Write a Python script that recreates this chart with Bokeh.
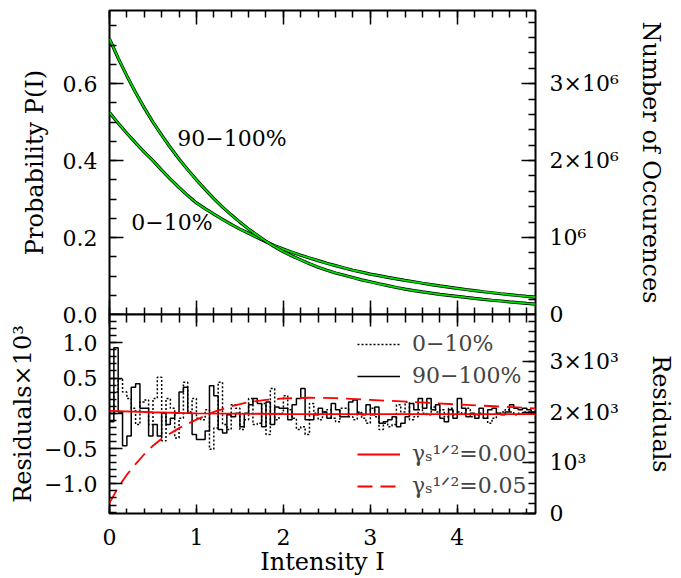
from bokeh.plotting import figure
from bokeh.layouts import column
from bokeh.models import Range1d, LinearAxis, FixedTicker, Label, Legend, LegendItem
from bokeh.embed import file_html
from bokeh.resources import INLINE

# ---------------- data ----------------
prob_step = 0.1   # sampling step of the probability curves, I = 0 .. 4.9
prob_0_10 = [0.525, 0.497, 0.471, 0.446, 0.422, 0.400, 0.375, 0.352, 0.330, 0.309,
             0.290, 0.275, 0.261, 0.247, 0.234, 0.222, 0.211, 0.200, 0.189, 0.179,
             0.170, 0.162, 0.154, 0.147, 0.140, 0.133, 0.127, 0.121, 0.115, 0.110,
             0.105, 0.101, 0.0965, 0.0925, 0.0887, 0.085, 0.0813, 0.0778, 0.0744, 0.0711,
             0.068, 0.0649, 0.0620, 0.0592, 0.0566, 0.054, 0.0516, 0.0493, 0.0471, 0.045]
prob_90_100 = [0.716, 0.666, 0.620, 0.577, 0.537, 0.500, 0.466, 0.434, 0.404, 0.376,
               0.350, 0.325, 0.301, 0.279, 0.259, 0.240, 0.222, 0.206, 0.190, 0.176,
               0.163, 0.152, 0.142, 0.132, 0.123, 0.115, 0.108, 0.102, 0.096, 0.090,
               0.085, 0.0798, 0.0749, 0.0703, 0.0660, 0.062, 0.0587, 0.0555, 0.0525, 0.0497,
               0.047, 0.0443, 0.0418, 0.0394, 0.0371, 0.035, 0.0328, 0.0307, 0.0288, 0.027]

res_bin = 0.05    # residual histogram bin width
res_0_10 = [0.00, 0.30, 0.49, 0.30, 0.21, 0.07, -0.16, 0.16, 0.19, -0.16,
            0.21, 0.51, -0.39, 0.21, 0.07, -0.35, -0.07, 0.44, 0.02, 0.21,
            -0.07, -0.09, 0.05, -0.51, -0.21, 0.44, -0.16, -0.23, 0.12, 0.07,
            -0.23, -0.09, 0.21, -0.16, -0.14, 0.14, -0.30, 0.35, -0.09, 0.00,
            0.25, 0.05, -0.07, -0.23, -0.19, -0.30, 0.14, 0.00, -0.09, 0.02,
            0.05, -0.07, -0.12, 0.07, 0.07, -0.05, -0.09, 0.02, -0.07, -0.14,
            0.07, -0.05, -0.23, -0.14, -0.19, -0.16, 0.12, 0.02, 0.16, -0.09,
            -0.05, 0.05, 0.00, -0.02, 0.09, 0.02, 0.05, -0.05, 0.07, -0.02,
            0.02, 0.00, 0.07, -0.05, -0.02, 0.00, -0.07, -0.14, -0.07, 0.00,
            0.02, 0.05, 0.02, -0.02, 0.00, 0.02, 0.02, 0.00]
res_90_100 = [-0.12, 0.93, 0.02, -0.46, -0.32, 0.37, 0.42, 0.07, 0.07, -0.32,
              -0.16, -0.32, 0.00, -0.16, -0.07, 0.00, 0.30, 0.37, 0.00, -0.30,
              -0.37, -0.37, -0.25, 0.39, 0.25, -0.23, -0.28, -0.02, -0.05, 0.00,
              -0.19, 0.00, 0.12, 0.21, 0.14, -0.19, 0.16, -0.16, 0.09, 0.07,
              0.07, -0.09, 0.12, 0.21, 0.35, -0.09, -0.09, -0.02, 0.07, 0.02,
              -0.07, 0.14, 0.05, -0.05, -0.05, 0.16, 0.19, 0.00, -0.02, 0.12,
              -0.02, 0.09, -0.14, -0.12, -0.09, -0.05, -0.19, -0.14, -0.05, 0.14,
              0.05, 0.21, 0.07, 0.21, 0.05, 0.12, -0.07, -0.12, 0.05, -0.07,
              0.21, 0.07, -0.05, 0.00, -0.07, 0.07, -0.07, 0.05, 0.07, 0.00,
              -0.02, 0.02, 0.12, 0.07, 0.05, 0.07, 0.05, 0.02]

fit00_I = [0.0, 0.5, 1.0, 2.0, 3.0, 4.0, 4.9]
fit00_res = [0.035, 0.015, 0.0, -0.01, -0.012, -0.013, -0.013]
fit05_I = [0.0, 0.1, 0.2, 0.3, 0.4, 0.5, 0.6, 0.8, 1.0, 1.2, 1.4, 1.6, 1.8, 2.0,
           2.3, 2.6, 3.0, 3.5, 4.0, 4.5, 4.9]
fit05_res = [-1.27, -1.05, -0.87, -0.72, -0.58, -0.46, -0.36, -0.21, -0.09, 0.02,
             0.10, 0.16, 0.19, 0.21, 0.22, 0.215, 0.19, 0.16, 0.125, 0.095, 0.07]

x_ticks = [0, 1, 2, 3, 4]
x_tick_labels = ["0", "1", "2", "3", "4"]
top_ticks = [0.0, 0.2, 0.4, 0.6]
top_tick_labels = ["0.0", "0.2", "0.4", "0.6"]
occ_ticks = [0, 1000000, 2000000, 3000000]
occ_tick_labels = ["0", "10⁶", "2×10⁶", "3×10⁶"]
bot_ticks = [-1.0, -0.5, 0.0, 0.5, 1.0]
bot_tick_labels = ["−1.0", "−0.5", "0.0", "0.5", "1.0"]
res_ticks = [0, 1000, 2000, 3000]
res_tick_labels = ["0", "10³", "2×10³", "3×10³"]

# ---------------- layout / style ----------------
W = 678
x_lo, x_hi = 0.0, 4.9
top_lo, top_hi = 0.0, 0.79
bot_lo, bot_hi = -1.42, 1.40
occ_per_prob = 5.0e6
res_lo, res_hi = 0.0, 3930.0

FONT = "DejaVu Serif"
TICK_FS = "22px"
LAB_FS = "24px"
TXT_FS = "22px"

xr = Range1d(x_lo, x_hi)


def style_axis(ax, major, minor, labels, tin, tmin, tout=0, mout=0, standoff=12):
    ax.ticker = FixedTicker(ticks=major, minor_ticks=minor)
    ax.axis_line_color = None
    ax.major_tick_in = tin
    ax.major_tick_out = tout
    ax.minor_tick_in = tmin
    ax.minor_tick_out = mout
    ax.major_tick_line_width = 1.5
    ax.minor_tick_line_width = 1.5
    ax.major_tick_line_color = "black"
    ax.minor_tick_line_color = "black"
    if labels is None:
        ax.major_label_overrides = {t: "" for t in major}
        ax.major_label_text_font_size = "1px"
        ax.major_label_standoff = 0
    else:
        ax.major_label_overrides = dict(zip(major, labels))
        ax.major_label_text_font = FONT
        ax.major_label_text_font_size = TICK_FS
        ax.major_label_text_color = "black"
        ax.major_label_standoff = standoff
    ax.axis_label_text_font = FONT
    ax.axis_label_text_font_size = LAB_FS
    ax.axis_label_text_font_style = "normal"
    ax.axis_label_text_color = "black"


def base_fig(height, yr, top, bottom, **kw):
    f = figure(width=W, height=height, x_range=xr, y_range=yr,
               x_axis_location=None, y_axis_location=None, output_backend="svg",
               toolbar_location=None, min_border_left=109, min_border_right=143,
               min_border_top=top, min_border_bottom=bottom, **kw)
    f.grid.visible = False
    f.outline_line_color = "black"
    f.outline_line_width = 2
    f.background_fill_color = "white"
    f.border_fill_color = None
    return f


x_minor = [round(0.2 * i, 1) for i in range(25)]

# ================= top panel =================
p1 = base_fig(328, Range1d(top_lo, top_hi), 10, 14)
p1.extra_y_ranges = {"occ": Range1d(top_lo * occ_per_prob, top_hi * occ_per_prob)}

ax = LinearAxis(axis_label="Probability P(I)")
style_axis(ax, top_ticks, [round(0.05 * i, 2) for i in range(16)], top_tick_labels, 14, 7)
ax.axis_label_standoff = 11
p1.add_layout(ax, "left")

ax = LinearAxis(y_range_name="occ", axis_label="Number of Occurences")
style_axis(ax, occ_ticks, [200000 * i for i in range(20)], occ_tick_labels, 14, 7,
           standoff=14)
ax.axis_label_standoff = 15
p1.add_layout(ax, "right")

ax = LinearAxis()
style_axis(ax, x_ticks, x_minor, None, 14, 7)
p1.add_layout(ax, "above")
ax = LinearAxis()
style_axis(ax, x_ticks, x_minor, None, 14, 7)
p1.add_layout(ax, "below")

prob_I = [round(prob_step * i, 2) for i in range(len(prob_0_10))]
for vals in (prob_0_10, prob_90_100):
    p1.line(prob_I, vals, line_color="black", line_width=3.2)
    p1.line(prob_I, vals, line_color="#00e000", line_width=1.8)

p1.add_layout(Label(x=0.78, y=0.457, text="90−100%", text_font=FONT, text_font_size=TXT_FS,
                    text_color="black", text_align="left", text_baseline="middle"))
p1.add_layout(Label(x=0.25, y=0.239, text="0−10%", text_font=FONT, text_font_size=TXT_FS,
                    text_color="black", text_align="left", text_baseline="middle"))

# ================= bottom panel =================
p2 = base_fig(266, Range1d(bot_lo, bot_hi), 2, 61, margin=(-16, 0, 0, 0))
p2.extra_y_ranges = {"res": Range1d(res_lo, res_hi)}

ax = LinearAxis(axis_label="Residuals×10³")
style_axis(ax, bot_ticks, [round(-1.4 + 0.1 * i, 1) for i in range(28)], bot_tick_labels, 13, 7)
ax.axis_label_standoff = 4
p2.add_layout(ax, "left")

ax = LinearAxis(y_range_name="res", axis_label="Residuals")
style_axis(ax, res_ticks, [200 * i for i in range(20)], res_tick_labels, 13, 7, standoff=14)
ax.axis_label_standoff = 25
p2.add_layout(ax, "right")

ax = LinearAxis()
style_axis(ax, x_ticks, x_minor, None, 12, 8)
p2.add_layout(ax, "above")

ax = LinearAxis(axis_label="Intensity I")
style_axis(ax, x_ticks, x_minor, x_tick_labels, 9, 5, standoff=15)
ax.major_label_text_line_height = 0.8
ax.axis_label_text_line_height = 0.8
ax.axis_label_standoff = 0
p2.add_layout(ax, "below")

edges = [round(res_bin * i, 3) for i in range(len(res_0_10) + 1)]
r_lo = p2.step(edges, res_0_10 + [res_0_10[-1]], mode="after", line_color="black",
               line_width=1.5, line_dash="2 2")
r_hi = p2.step(edges, res_90_100 + [res_90_100[-1]], mode="after", line_color="black",
               line_width=1.5)
r_f0 = p2.line(fit00_I, fit00_res, line_color="#ff0000", line_width=1.8)
r_f5 = p2.line(fit05_I, fit05_res, line_color="#ff0000", line_width=1.8, line_dash="15 8")


def legend(items, loc):
    lg = Legend(items=items, location=loc, border_line_color=None,
                background_fill_alpha=0, label_text_font=FONT, label_text_font_size=TXT_FS,
                glyph_width=43, glyph_height=24, label_height=24, spacing=7, padding=0,
                margin=0, label_standoff=12)
    p2.add_layout(lg)


legend([LegendItem(label="0−10%", renderers=[r_lo]),
        LegendItem(label="90−100%", renderers=[r_hi])], (248, 125))
legend([LegendItem(label="γₛ¹ᐟ²=0.00", renderers=[r_f0]),
        LegendItem(label="γₛ¹ᐟ²=0.05", renderers=[r_f5])], (248, 15))

layout = column(p1, p2, spacing=0)
open("out.html", "w").write(file_html(layout, INLINE))
